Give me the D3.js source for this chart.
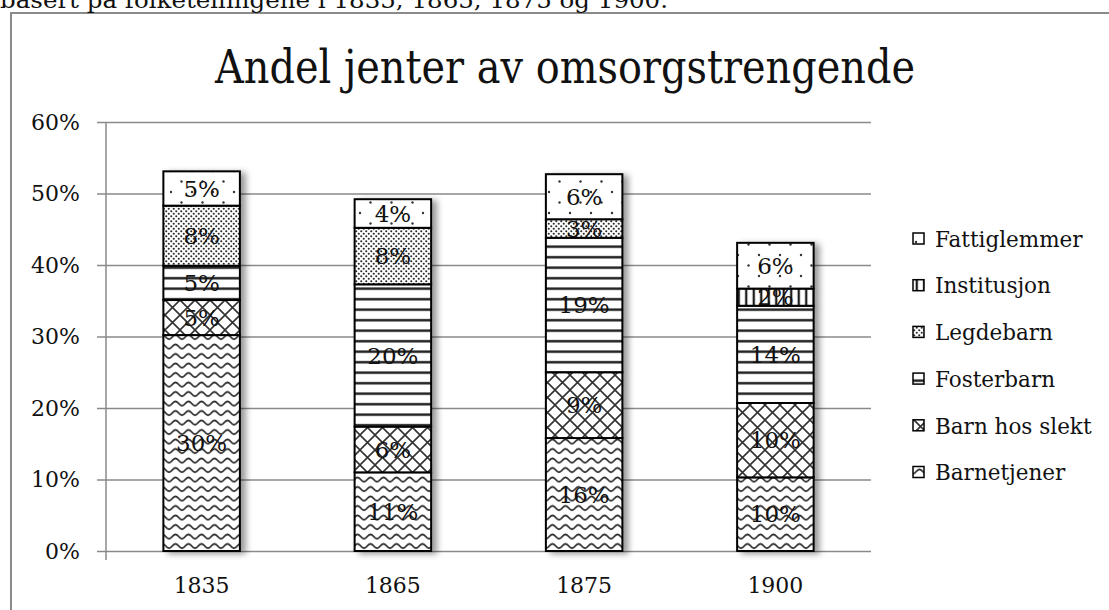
<!DOCTYPE html>
<html>
<head>
<meta charset="utf-8">
<script src="https://cdn.jsdelivr.net/npm/d3@7/dist/d3.min.js"></script>
<style>
  html, body { margin: 0; padding: 0; background: #fff; }
  svg { display: block; }
  text { font-family: "DejaVu Serif", "Liberation Serif", serif; fill: #111; }
</style>
</head>
<body>
<svg id="chart" width="1109" height="610"></svg>
<script>
// Share of girls among children in care, by census year (percent)
const years = ["1835", "1865", "1875", "1900"];
const seriesNames = ["Barnetjener", "Barn hos slekt", "Fosterbarn", "Legdebarn", "Institusjon", "Fattiglemmer"];
const barnetjener  = [30.2, 11.0, 15.8, 10.3];
const barnHosSlekt = [4.9, 6.4, 9.2, 10.4];
const fosterbarn   = [4.8, 19.9, 18.8, 13.6];
const legdebarn    = [8.4, 7.9, 2.6, 0];
const institusjon  = [0, 0, 0, 2.4];
const fattiglemmer = [4.8, 4.0, 6.3, 6.4];
const yTicks = [0, 10, 20, 30, 40, 50, 60];
const titleText = "Andel jenter av omsorgstrengende";
const captionText = "basert på folketellingene i 1835, 1865, 1875 og 1900.";

const seriesValues = [barnetjener, barnHosSlekt, fosterbarn, legdebarn, institusjon, fattiglemmer];
const rows = years.map((yr, i) => {
  const r = { year: yr };
  seriesNames.forEach((n, k) => { r[n] = seriesValues[k][i]; });
  return r;
});

const svg = d3.select("#chart");
const defs = svg.append("defs");

// ---- fill patterns ----
function pat(id, w, h) {
  const p = defs.append("pattern").attr("id", id)
    .attr("patternUnits", "userSpaceOnUse").attr("width", w).attr("height", h);
  p.append("rect").attr("width", w).attr("height", h).attr("fill", "#fff");
  return p;
}
// wavy lines
pat("p-wave", 13, 9.5).append("path")
  .attr("d", "M-13,6.6 C-10,6.6 -9.5,2.4 -6.5,2.4 C-3.5,2.4 -3,6.6 0,6.6 C3,6.6 3.5,2.4 6.5,2.4 C9.5,2.4 10,6.6 13,6.6 C16,6.6 16.5,2.4 19.5,2.4")
  .attr("fill", "none").attr("stroke", "#2a2a2a").attr("stroke-width", 1.8);
// diagonal cross-hatch
pat("p-cross", 15, 15).append("path")
  .attr("d", "M0,0 L15,15 M15,0 L0,15 M-1,14 L1,16 M14,-1 L16,1")
  .attr("fill", "none").attr("stroke", "#333").attr("stroke-width", 1.6);
// horizontal lines
pat("p-horiz", 10, 10.5).append("rect")
  .attr("x", 0).attr("y", 4).attr("width", 10).attr("height", 2.4).attr("fill", "#1a1a1a");
// dense dots
{
  const p = pat("p-dense", 5, 5);
  p.append("circle").attr("cx", 1.25).attr("cy", 1.25).attr("r", 1.05).attr("fill", "#2a2a2a");
  p.append("circle").attr("cx", 3.75).attr("cy", 3.75).attr("r", 1.05).attr("fill", "#2a2a2a");
}
// vertical lines
pat("p-vert", 7.5, 10).append("rect")
  .attr("x", 2.6).attr("y", 0).attr("width", 2.3).attr("height", 10).attr("fill", "#1a1a1a");
// sparse dots
{
  const p = pat("p-sparse", 21, 21);
  p.append("circle").attr("cx", 3).attr("cy", 3).attr("r", 1.2).attr("fill", "#333");
  p.append("circle").attr("cx", 13.5).attr("cy", 13.5).attr("r", 1.2).attr("fill", "#333");
}
const fills = ["url(#p-wave)", "url(#p-cross)", "url(#p-horiz)", "url(#p-dense)", "url(#p-vert)", "url(#p-sparse)"];

const shadow = defs.append("filter").attr("id", "shadow")
  .attr("x", "-20%").attr("y", "-10%").attr("width", "150%").attr("height", "130%");
shadow.append("feDropShadow").attr("dx", 5).attr("dy", 2).attr("stdDeviation", 3)
  .attr("flood-color", "#000").attr("flood-opacity", 0.4);

// ---- frame and captions ----
svg.append("path").attr("d", "M11,640 L11,13 L1120,13")
  .attr("fill", "none").attr("stroke", "#8a8a8a").attr("stroke-width", 2);

svg.append("text").attr("x", 0).attr("y", 8)
  .attr("font-size", 23).attr("textLength", 668).attr("lengthAdjust", "spacingAndGlyphs")
  .text(captionText);

svg.append("text").attr("x", 565).attr("y", 83).attr("text-anchor", "middle")
  .attr("font-size", 46).attr("textLength", 700).attr("lengthAdjust", "spacingAndGlyphs")
  .text(titleText);

// ---- scales ----
const plot = { left: 106, right: 871, top: 122, bottom: 551 };
const x = d3.scaleBand().domain(years).range([plot.left, plot.right])
  .paddingInner(0.6).paddingOuter(0.3);
const y = d3.scaleLinear().domain([0, 60]).range([plot.bottom, plot.top]);

// gridlines
const grid = svg.append("g").attr("transform", `translate(${plot.left},0)`)
  .call(d3.axisLeft(y).tickValues(yTicks).tickSize(-(plot.right - plot.left)).tickFormat(""));
grid.select(".domain").remove();
grid.selectAll("line").attr("stroke", "#8a8a8a").attr("stroke-width", 1.5);

// y axis with outer tick marks and labels
const yAxis = svg.append("g").attr("transform", `translate(${plot.left},0)`)
  .call(d3.axisLeft(y).tickValues(yTicks).tickSize(9).tickPadding(17).tickFormat(d => d + "%"));
yAxis.select(".domain").remove();
yAxis.selectAll("line").attr("stroke", "#8a8a8a").attr("stroke-width", 1.5);
yAxis.selectAll("text").attr("font-size", 22).attr("font-family", "DejaVu Serif").attr("fill", "#111");
svg.append("line").attr("x1", plot.left).attr("x2", plot.left)
  .attr("y1", plot.top).attr("y2", plot.bottom + 9)
  .attr("stroke", "#8a8a8a").attr("stroke-width", 1.5);

// x axis labels
const xAxis = svg.append("g").attr("transform", `translate(0,${plot.bottom})`)
  .call(d3.axisBottom(x).tickSize(0).tickPadding(26));
xAxis.select(".domain").remove();
xAxis.selectAll("text").attr("font-size", 22).attr("font-family", "DejaVu Serif").attr("fill", "#111");

// ---- stacked bars ----
const stack = d3.stack().keys(seriesNames)(rows);

const barGroups = svg.append("g").selectAll("g.bar")
  .data(years).join("g").attr("class", "bar").attr("filter", "url(#shadow)");

barGroups.each(function(yr, i) {
  const g = d3.select(this);
  stack.forEach((layer, k) => {
    const seg = layer[i];
    if (seg[1] - seg[0] <= 0) return;
    g.append("rect")
      .attr("x", x(yr)).attr("width", x.bandwidth())
      .attr("y", y(seg[1])).attr("height", y(seg[0]) - y(seg[1]))
      .attr("fill", fills[k]).attr("stroke", "#000").attr("stroke-width", 2);
  });
});

// segment value labels
const labelG = svg.append("g");
stack.forEach((layer, k) => {
  layer.forEach((seg, i) => {
    const v = seg[1] - seg[0];
    if (v <= 0) return;
    labelG.append("text")
      .attr("x", x(years[i]) + x.bandwidth() / 2)
      .attr("y", (y(seg[0]) + y(seg[1])) / 2)
      .attr("dy", "0.36em").attr("text-anchor", "middle")
      .attr("font-size", 23).attr("fill", "#000")
      .text(Math.round(v) + "%");
  });
});

// ---- legend (top entry is the top of the stack) ----
const legendOrder = seriesNames.map((n, k) => ({ name: n, fill: fills[k] })).reverse();
const legend = svg.append("g").attr("transform", "translate(913,239)");
legendOrder.forEach((d, j) => {
  const gy = j * 46.7;
  legend.append("rect").attr("x", 0).attr("y", gy - 6).attr("width", 11).attr("height", 11)
    .attr("fill", d.fill).attr("stroke", "#000").attr("stroke-width", 1.5);
  legend.append("text").attr("x", 22).attr("y", gy).attr("dy", "0.36em")
    .attr("font-size", 21.5).text(d.name);
});
</script>
</body>
</html>
